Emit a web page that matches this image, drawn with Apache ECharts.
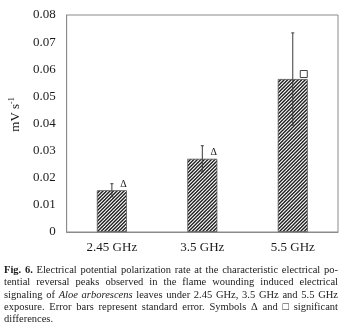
<!DOCTYPE html>
<html>
<head>
<meta charset="utf-8">
<script src="https://cdn.jsdelivr.net/npm/echarts@6/dist/echarts.min.js"></script>
<style>
html,body{margin:0;padding:0;background:#fff;}
#chart{width:349px;height:331px;}
</style>
</head>
<body>
<div id="chart"></div>
<script>
// ---- data ----
const categories = ['2.45 GHz', '3.5 GHz', '5.5 GHz'];
const means = [0.0154, 0.0270, 0.0564];
const stdErrors = [0.0024, 0.0048, 0.0170];
const significance = ['Δ', 'Δ', '□'];
const yMin = 0, yMax = 0.08, yStep = 0.01;
const yAxisTitle = 'mV s';
const yAxisTitleSup = '-1';
const captionLines = [
  [['Fig. 6.', 'bold'], ['Electrical potential polarization rate at the characteristic electrical po-', 'normal']],
  [['tential reversal peaks observed in the flame wounding induced electrical', 'normal']],
  [['signaling of', 'normal'], ['Aloe arborescens', 'italic'], ['leaves under 2.45 GHz, 3.5 GHz and 5.5 GHz', 'normal']],
  [['exposure. Error bars represent standard error. Symbols Δ and □ significant', 'normal']],
  [['differences.', 'normal']]
];

// ---- styling helpers ----
const SERIF = '"Liberation Serif", "Times New Roman", serif';

function hatchPattern() {
  const c = document.createElement('canvas');
  c.width = 7; c.height = 7;
  const g = c.getContext('2d');
  g.fillStyle = '#ffffff';
  g.fillRect(0, 0, 7, 7);
  g.strokeStyle = '#1e1e1e';
  g.lineWidth = 1.35;
  [0, 3.5, 7, 10.5, 14].forEach(k => {
    g.beginPath();
    g.moveTo(k + 1, -1);
    g.lineTo(k - 8, 8);
    g.stroke();
  });
  return c;
}

// caption graphics (justified lines)
function captionGraphics() {
  const fs = 10.5, left = 4, right = 338, y0 = 270, lh = 12.4;
  const meas = document.createElement('canvas').getContext('2d');
  const els = [];
  captionLines.forEach((runs, li) => {
    const words = [];
    runs.forEach(([txt, st]) => {
      txt.split(' ').filter(w => w.length).forEach(w => words.push({ w, st }));
    });
    const fontOf = st => (st === 'italic' ? 'italic ' : '') + (st === 'bold' ? 'bold ' : '') + fs + 'px ' + SERIF;
    let total = 0;
    words.forEach(o => { meas.font = fontOf(o.st); o.width = meas.measureText(o.w).width; total += o.width; });
    const last = li === captionLines.length - 1;
    const spaceW = (meas.font = fontOf('normal'), meas.measureText(' ').width);
    const gap = last ? spaceW : (right - left - total) / (words.length - 1);
    let x = left;
    const y = y0 + li * lh;
    words.forEach(o => {
      els.push({
        type: 'text', x: x, y: y, silent: true,
        style: {
          text: o.w, fill: '#1a1a1a', fontSize: fs, fontFamily: SERIF,
          fontStyle: o.st === 'italic' ? 'italic' : 'normal',
          fontWeight: o.st === 'bold' ? 'bold' : 'normal',
          align: 'left', verticalAlign: 'middle'
        }
      });
      x += o.width + gap;
    });
  });
  return els;
}

const chart = echarts.init(document.getElementById('chart'), null, { renderer: 'canvas' });
const BAR_W = 30;

const option = {
  animation: false,
  backgroundColor: '#ffffff',
  grid: { left: 61, right: 11, top: 15, bottom: 99, show: true, borderColor: '#8a8a8a', borderWidth: 1, backgroundColor: 'transparent' },
  xAxis: {
    type: 'category', data: categories,
    axisLine: { show: true, lineStyle: { color: '#8a8a8a', width: 1 } },
    axisTick: { show: false },
    axisLabel: { color: '#1a1a1a', fontFamily: SERIF, fontSize: 13, margin: 9 }
  },
  yAxis: {
    type: 'value', min: yMin, max: yMax, interval: yStep,
    name: '{a|' + yAxisTitle + '}{s|' + yAxisTitleSup + '}',
    nameLocation: 'middle', nameGap: 38, nameRotate: 90,
    nameTextStyle: {
      color: '#1a1a1a', fontFamily: SERIF, fontSize: 13, padding: [0, 0, 0, 18],
      rich: {
        a: { fontFamily: SERIF, fontSize: 13, color: '#1a1a1a' },
        s: { fontFamily: SERIF, fontSize: 8, color: '#1a1a1a', verticalAlign: 'top', padding: [0, 0, 7, 0] }
      }
    },
    axisLine: { show: true, lineStyle: { color: '#8a8a8a', width: 1 } },
    axisTick: { show: false },
    splitLine: { show: false },
    axisLabel: {
      color: '#1a1a1a', fontFamily: SERIF, fontSize: 13, margin: 11,
      formatter: v => (Math.abs(v) < 1e-9 ? '0' : v.toFixed(2))
    }
  },
  series: [
    {
      type: 'bar', data: means, barWidth: BAR_W,
      itemStyle: { color: { image: hatchPattern(), repeat: 'repeat' }, borderColor: '#555', borderWidth: 0.8 },
      z: 2
    },
    {
      type: 'custom', z: 3,
      data: means.map((m, i) => [i, m, stdErrors[i]]),
      renderItem: (params, api) => {
        const x = api.value(0), m = api.value(1), e = api.value(2);
        const top = api.coord([x, m + e]);
        const bot = api.coord([x, m - e]);
        const st = { stroke: '#3a3a3a', lineWidth: 1 };
        const cap = 1.5;
        return {
          type: 'group', children: [
            { type: 'line', shape: { x1: top[0], y1: top[1], x2: bot[0], y2: bot[1] }, style: st },
            { type: 'line', shape: { x1: top[0] - cap, y1: top[1], x2: top[0] + cap, y2: top[1] }, style: st },
            { type: 'line', shape: { x1: bot[0] - cap, y1: bot[1], x2: bot[0] + cap, y2: bot[1] }, style: st }
          ]
        };
      }
    },
    {
      type: 'custom', z: 4,
      data: means.map((m, i) => [i, m, significance[i]]),
      renderItem: (params, api) => {
        const i = params.dataIndex;
        const p = api.coord([api.value(0), api.value(1)]);
        const sym = significance[i];
        if (sym === '□') {
          return {
            type: 'rect',
            shape: { x: p[0] + 7.5, y: p[1] - 8.5, width: 7, height: 7 },
            style: { fill: '#fff', stroke: '#444', lineWidth: 1 }
          };
        }
        return {
          type: 'text', x: p[0] + 11.5, y: p[1] - 6,
          style: { text: sym, fill: '#1a1a1a', fontFamily: SERIF, fontSize: 10, align: 'center', verticalAlign: 'middle' }
        };
      }
    }
  ],
  graphic: captionGraphics()
};
chart.setOption(option);
</script>
</body>
</html>
